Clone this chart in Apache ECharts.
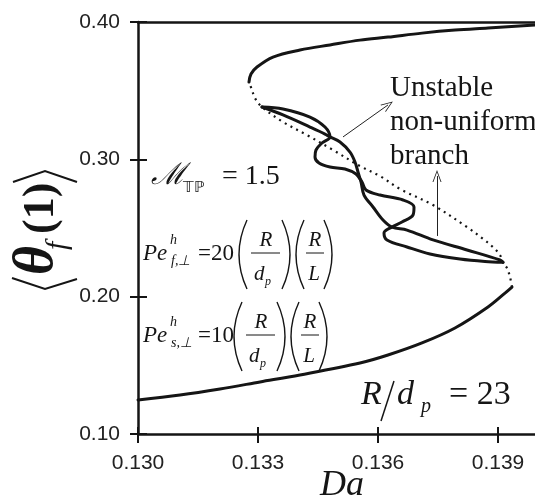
<!DOCTYPE html>
<html>
<head>
<meta charset="utf-8">
<script src="https://cdn.jsdelivr.net/npm/echarts@6/dist/echarts.min.js"></script>
<style>
  html, body { margin: 0; padding: 0; background: #fff; }
  #chart { width: 535px; height: 501px; }
</style>
</head>
<body>
<div id="chart"></div>
<script>
// Axis ticks
const xTicks = [0.130, 0.133, 0.136, 0.139];
const yTicks = [0.10, 0.20, 0.30, 0.40];
const xLimit = 0.140;

// Stable uniform branch, low-conversion side (Da, <theta_f(1)>)
const lowerStable = [
  [0.13000, 0.1248], [0.13105, 0.1284], [0.13205, 0.1328], [0.13305, 0.1379],
  [0.13405, 0.1430], [0.13555, 0.1517], [0.13625, 0.1575], [0.13710, 0.1663],
  [0.137925, 0.1772], [0.13875, 0.1925], [0.139175, 0.2026], [0.13935, 0.2070]
];

// Stable uniform branch, high-conversion side
const upperStable = [
  [0.132775, 0.3563], [0.132825, 0.3621], [0.132975, 0.3672], [0.133375, 0.3745],
  [0.13405, 0.3796], [0.13480, 0.3833], [0.13555, 0.3868], [0.13625, 0.3890],
  [0.13710, 0.3919], [0.137925, 0.3941], [0.13875, 0.3956], [0.139925, 0.3978],
  [0.14010, 0.3980]
];

// Unstable uniform branch (right fold -> middle -> left fold)
const unstableUniform = [
  [0.13935, 0.2070], [0.13930, 0.2143], [0.139225, 0.2208], [0.139125, 0.2250],
  [0.13905, 0.2303], [0.138875, 0.2361], [0.13860, 0.2427], [0.138225, 0.2507],
  [0.137375, 0.2667], [0.13655, 0.2784], [0.13605, 0.2878], [0.13555, 0.2951],
  [0.134875, 0.3068], [0.134225, 0.3177], [0.133625, 0.3272], [0.13310, 0.3381],
  [0.132925, 0.3446], [0.13285, 0.3504], [0.132775, 0.3563]
];

// Unstable non-uniform branches
const nonUniformA = [
  [0.13310, 0.3381], [0.133625, 0.3367], [0.13430, 0.3308], [0.134675, 0.3235],
  [0.13480, 0.3163], [0.13460, 0.3119], [0.13445, 0.3068], [0.134425, 0.3017],
  [0.134525, 0.2973], [0.13480, 0.2944], [0.135175, 0.2930], [0.13545, 0.2893],
  [0.13560, 0.2835], [0.13570, 0.2777], [0.13605, 0.2740], [0.136625, 0.2704],
  [0.13690, 0.2653], [0.136875, 0.2595], [0.13660, 0.2544], [0.13635, 0.2507],
  [0.13615, 0.2464], [0.136225, 0.2413], [0.136725, 0.2362], [0.13730, 0.2311],
  [0.13805, 0.2274], [0.138675, 0.2256], [0.139125, 0.2250]
];
const nonUniformB = [
  [0.13310, 0.3381], [0.133625, 0.3323], [0.13430, 0.3235], [0.134675, 0.3184],
  [0.13480, 0.3163], [0.13505, 0.3126], [0.13530, 0.3053], [0.135425, 0.2981],
  [0.13550, 0.2908], [0.135575, 0.2835], [0.13565, 0.2740], [0.135875, 0.2653],
  [0.136125, 0.2558], [0.13635, 0.2507], [0.136725, 0.2485], [0.137375, 0.2413],
  [0.138225, 0.2340], [0.13905, 0.2267], [0.139125, 0.2250]
];

// Pointer arrows
const arrowToUnstable = [[0.135125, 0.3163], [0.13625, 0.3396]];
const arrowUp = [[0.137475, 0.2442], [0.137475, 0.2878]];

const SERIF = '"Liberation Serif", "Times New Roman", serif';
const SANS = '"Liberation Sans", Arial, sans-serif';
const INK = '#151515';

// text placed by its alphabetic baseline
function txt(text, x, base, size, weight, extra) {
  return Object.assign({
    type: 'text', x: x, y: base - 0.34 * size, silent: true,
    style: { text: text, font: (weight || '') + ' ' + size + 'px ' + SERIF,
             fill: INK, align: 'left', verticalAlign: 'middle' }
  }, extra || {});
}
function ctxt(text, cx, base, size, weight) {
  const e = txt(text, cx, base, size, weight);
  e.style.align = 'center';
  return e;
}
function seg(x1, y1, x2, y2, w) {
  return { type: 'line', silent: true, shape: { x1: x1, y1: y1, x2: x2, y2: y2 },
           style: { stroke: INK, lineWidth: w || 1 } };
}
function paren(x, top, bot, open) {
  const bulge = open ? x - 16 : x + 16;
  return { type: 'bezierCurve', silent: true,
           shape: { x1: x, y1: top, x2: x, y2: bot, cpx1: bulge, cpy1: (top + bot) / 2 },
           style: { stroke: INK, lineWidth: 1.4, fill: null } };
}

// Peclet number expression:  Pe^h_{sub} = coef (R/d_p)(R/L)
function peclet(by, sub, coef, dx) {
  const top = by - 33, bot = by + 36;
  return [
    txt('Pe', 143, by + 9, 23, 'italic'),
    txt('h', 170, by - 8, 14, 'italic'),
    txt(sub, 171, by + 13, 14, 'italic'),
    txt('=' + coef, 198, by + 9, 23),
    paren(247 + dx, top, bot, true),
    ctxt('R', 266 + dx, by - 5, 21, 'italic'),
    seg(251 + dx, by, 280 + dx, by, 1),
    txt('d', 254 + dx, by + 29, 21, 'italic'),
    txt('p', 265 + dx, by + 33, 12, 'italic'),
    paren(282 + dx, top, bot, false),
    paren(304 + dx, top, bot, true),
    ctxt('R', 315 + dx, by - 5, 21, 'italic'),
    seg(306 + dx, by, 324 + dx, by, 1),
    ctxt('L', 314 + dx, by + 29, 21, 'italic'),
    paren(324 + dx, top, bot, false)
  ];
}

const graphics = [].concat(
  // vertical axis title  <theta_f(1)>
  [
    { type: 'polyline', silent: true, shape: { points: [[12, 278], [45, 289], [77, 279]] },
      style: { stroke: INK, lineWidth: 2, fill: null } },
    { type: 'polyline', silent: true, shape: { points: [[13, 182], [45, 171], [77, 182]] },
      style: { stroke: INK, lineWidth: 2, fill: null } },
    { type: 'group', x: 57, y: 230, rotation: Math.PI / 2, silent: true, children: [
      txt('θ', -45, 0, 56, 'italic bold'),
      txt('f', -20, 11, 30, 'italic'),
      txt('(1)', -4, 0, 44, 'bold')
    ]}
  ],
  // horizontal axis title
  [ txt('Da', 320, 498, 36, 'italic') ],
  [
    txt('ℳ', 151, 186, 30, 'italic'),
    txt('𝕋ℙ', 183, 193, 15),
    txt('= 1.5', 222, 186, 28)
  ],
  peclet(253, 'f,⊥', 20, 0),
  peclet(335, 's,⊥', 10, -5),
  [
    txt('R', 361, 407, 34, 'italic'),
    seg(394, 381, 381, 421, 1.5),
    txt('d', 397, 407, 34, 'italic'),
    txt('p', 421, 414, 20, 'italic'),
    txt('= 23', 449, 407, 34)
  ],
  [
    txt('Unstable', 390, 98, 29),
    txt('non-uniform', 390, 132, 29),
    txt('branch', 390, 166, 29)
  ]
);

const xStep = +(xTicks[1] - xTicks[0]).toFixed(6);
const yStep = +(yTicks[1] - yTicks[0]).toFixed(6);
const isTick = (arr, v) => arr.some(t => Math.abs(t - v) < 1e-9);

const gridRect = { left: 138, top: 22, right: -3, bottom: 67, containLabel: false, outerBoundsMode: 'none' };
const axisLineStyle = { color: INK, width: 2.5 };

function solid(data) {
  return { type: 'line', data: data, xAxisIndex: 0, yAxisIndex: 0, showSymbol: false,
           smooth: 0.35, silent: true, lineStyle: { color: INK, width: 3, cap: 'round', join: 'round' } };
}

const option = {
  animation: false,
  backgroundColor: '#fff',
  grid: [Object.assign({}, gridRect), Object.assign({}, gridRect)],
  xAxis: [
    { gridIndex: 0, type: 'value', position: 'bottom', min: xTicks[0], max: xLimit, interval: xStep,
      axisLine: { lineStyle: axisLineStyle },
      axisTick: { show: true, inside: false, length: 9, lineStyle: { color: INK, width: 2 } },
      axisLabel: { formatter: v => isTick(xTicks, v) ? v.toFixed(3) : '', fontFamily: SANS,
                   fontSize: 21, color: '#222', margin: 19 },
      splitLine: { show: false } },
    { gridIndex: 0, type: 'value', position: 'top', min: xTicks[0], max: xLimit, interval: xStep,
      axisLine: { lineStyle: axisLineStyle }, axisTick: { show: false },
      axisLabel: { show: false }, splitLine: { show: false } },
    { gridIndex: 1, type: 'value', position: 'bottom', min: xTicks[0], max: xLimit, interval: xStep,
      axisLine: { show: false },
      axisTick: { show: true, inside: true, length: 7, lineStyle: { color: INK, width: 2 } },
      axisLabel: { show: false }, splitLine: { show: false } }
  ],
  yAxis: [
    { gridIndex: 0, type: 'value', min: yTicks[0], max: yTicks[yTicks.length - 1], interval: yStep,
      axisLine: { show: true, lineStyle: axisLineStyle },
      axisTick: { show: true, inside: false, length: 8, lineStyle: { color: INK, width: 2 } },
      axisLabel: { formatter: v => isTick(yTicks, v) ? v.toFixed(2) : '', fontFamily: SANS,
                   fontSize: 21, color: '#222', margin: 18 },
      splitLine: { show: false } },
    { gridIndex: 1, type: 'value', min: yTicks[0], max: yTicks[yTicks.length - 1], interval: yStep,
      axisLine: { show: false },
      axisTick: { show: true, inside: true, length: 9, lineStyle: { color: INK, width: 2 } },
      axisLabel: { show: false }, splitLine: { show: false } }
  ],
  series: [
    solid(lowerStable),
    solid(upperStable),
    {
      type: 'line', data: unstableUniform, xAxisIndex: 0, yAxisIndex: 0, showSymbol: false,
      smooth: 0.35, silent: true,
      lineStyle: { color: INK, width: 2.2, type: [2, 4.5] },
      markLine: {
        silent: true, animation: false,
        symbol: ['none', 'path://M5,0 L10,12 L9,12 L5,2.2 L1,12 L0,12 Z'],
        symbolSize: [9, 12],
        label: { show: false },
        lineStyle: { color: '#222', width: 1, type: 'solid' },
        emphasis: { disabled: true },
        data: [
          [{ coord: arrowToUnstable[0] }, { coord: arrowToUnstable[1] }],
          [{ coord: arrowUp[0] }, { coord: arrowUp[1] }]
        ]
      }
    },
    solid(nonUniformA),
    solid(nonUniformB)
  ],
  graphic: graphics
};

const chart = echarts.init(document.getElementById('chart'), null, { renderer: 'canvas' });
chart.setOption(option);
</script>
</body>
</html>
